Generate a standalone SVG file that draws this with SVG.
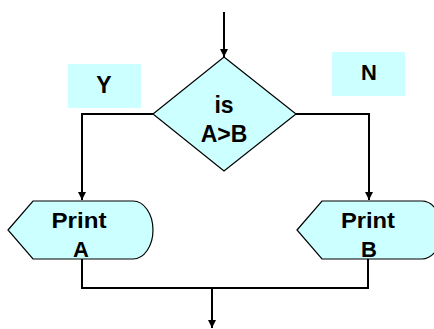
<svg xmlns="http://www.w3.org/2000/svg" width="434" height="329" viewBox="0 0 434 329">
<style>
.shape{fill:#CCFFFF;stroke:#000;stroke-width:1.2}
.lab{fill:#CCFFFF;stroke:none}
.t{font-family:"Liberation Sans",Arial,sans-serif;font-weight:bold;fill:#000;text-anchor:middle}
.c{fill:none;stroke:#000;stroke-width:2}
</style>
<defs>
<marker id="ah" markerWidth="8" markerHeight="8" refX="8" refY="4" orient="auto" markerUnits="userSpaceOnUse">
<path d="M0,0 L8,4 L0,8 Z" fill="#000"/>
</marker>
</defs>
<rect width="434" height="329" fill="#fff"/>
<g id="connectors">
<line class="c" x1="224" y1="12" x2="224" y2="57" marker-end="url(#ah)"/>
<polyline class="c" points="153,114 82,114 82,200" marker-end="url(#ah)"/>
<polyline class="c" points="296,114 369,114 369,200" marker-end="url(#ah)"/>
<polyline class="c" points="82,259 82,288 368,288 368,259"/>
<line class="c" x1="212" y1="288" x2="212" y2="328" marker-end="url(#ah)"/>
</g>
<g id="labelY">
<rect class="lab" x="68" y="64" width="73" height="44"/>
<text class="t" x="104" y="93" font-size="23">Y</text>
</g>
<g id="labelN">
<rect class="lab" x="332" y="52" width="73" height="44"/>
<text class="t" x="369" y="80" font-size="22">N</text>
</g>
<g id="decision">
<polygon class="shape" points="224,57 296,114 224,171 153,114"/>
<text class="t" x="224" y="113" font-size="23">is</text>
<text class="t" x="224" y="142" font-size="23">A&gt;B</text>
</g>
<g id="printA">
<path class="shape" d="M8,230 L33,201 L133,201 A20,29 0 0 1 133,259 L33,259 Z"/>
<text class="t" x="79" y="228" font-size="22" textLength="55" lengthAdjust="spacingAndGlyphs">Print</text>
<text class="t" x="81" y="257" font-size="22">A</text>
</g>
<g id="printB">
<path class="shape" d="M297,230 L322,201 L422,201 A20,29 0 0 1 422,259 L322,259 Z"/>
<text class="t" x="368" y="228" font-size="22" textLength="54" lengthAdjust="spacingAndGlyphs">Print</text>
<text class="t" x="369" y="257" font-size="22">B</text>
</g>
</svg>
